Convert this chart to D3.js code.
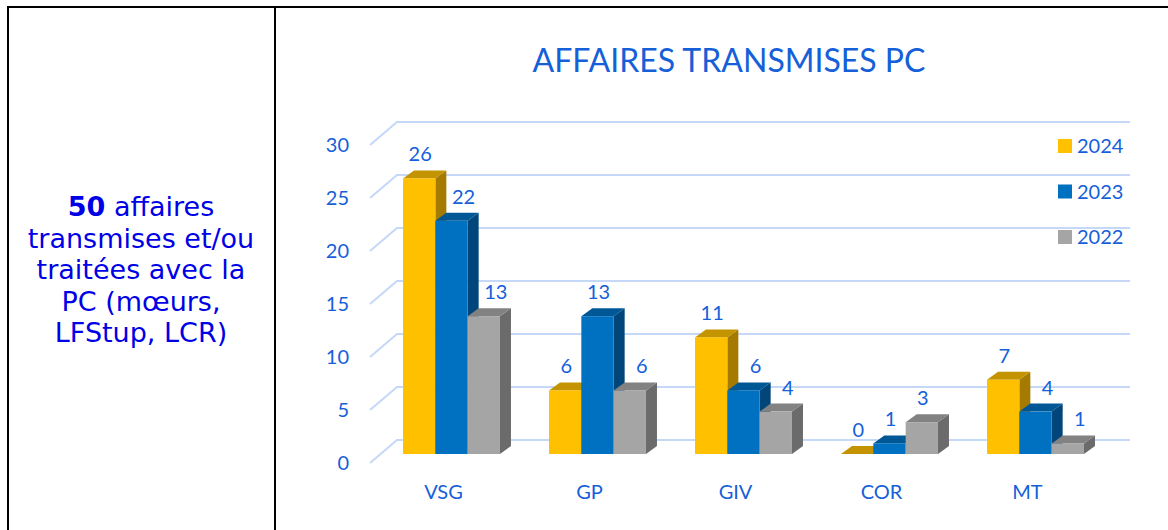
<!DOCTYPE html>
<meta charset="utf-8">
<style>
body { margin: 0; background: #fff; }
.lab { font-family: Lato, "Open Sans", sans-serif; font-size: 20px; fill: #1560D9; }
.side { font-family: "DejaVu Sans", Verdana, sans-serif; font-size: 27px; fill: #0000E6; }
</style>
<body>
<script src="https://cdn.jsdelivr.net/npm/d3@7"></script>
<script>

var width = 1168,
    height = 530;

var categories = ["VSG", "GP", "GIV", "COR", "MT"];
var years = ["2024", "2023", "2022"];
var v2024 = [26, 6, 11, 0, 7];
var v2023 = [22, 13, 6, 1, 4];
var v2022 = [13, 6, 4, 3, 1];
var yTicks = [0, 5, 10, 15, 20, 25, 30];
var sideLines = ["transmises et/ou", "traitées avec la", "PC (mœurs,", "LFStup, LCR)"];

var series = [v2024, v2023, v2022];
var faceColors = ["#FFC000", "#0070C0", "#A5A5A5"];
var topColors = ["#C39300", "#005796", "#828282"];
var sideColors = ["#A47B00", "#00467A", "#6B6B6B"];

// 3d offsets
var dx = 11, dy = 8;          // bar depth
var wallX = 27, wallY = 23;   // floor depth (front edge -> back wall)

var svg = d3.select("body").append("svg")
    .attr("width", width)
    .attr("height", height);

// table borders
svg.append("path")
    .attr("d", "M8,530 V7 H1168 M275,7 V530")
    .attr("fill", "none")
    .attr("stroke", "black")
    .attr("stroke-width", 2);

// left cell text
var st = svg.append("text")
    .attr("class", "side")
    .attr("text-anchor", "middle")
    .attr("x", 141)
    .attr("y", 216);
st.append("tspan").attr("font-weight", "bold").text("50");
st.append("tspan").text(" affaires");

svg.selectAll(".sideLine")
    .data(sideLines)
  .enter().append("text")
    .attr("class", "side")
    .attr("text-anchor", "middle")
    .attr("x", 141)
    .attr("y", function(d, i) { return 247.5 + i * 31.5; })
    .text(function(d) { return d; });

// title
svg.append("text")
    .attr("class", "lab")
    .attr("x", 729)
    .attr("y", 72)
    .attr("text-anchor", "middle")
    .style("font-size", "32px")
    .text("AFFAIRES TRANSMISES PC");

var y = d3.scaleLinear()
    .domain([0, 30])
    .range([454, 136]);

var x = d3.scaleBand()
    .domain(categories)
    .range([378.5, 1108.5])
    .paddingInner(0.336)
    .paddingOuter(0.168);

var xs = d3.scaleBand()
    .domain(years)
    .range([0, x.bandwidth()]);

// gridlines: diagonal on the left + back wall
var grid = svg.append("g")
    .attr("fill", "none")
    .attr("stroke", "#C5D8F7")
    .attr("stroke-width", 2);

grid.selectAll("path")
    .data(yTicks)
  .enter().append("path")
    .attr("d", function(d) {
      var yb = y(d) - 14;
      return "M370," + (yb + wallY) + " L" + (370 + wallX) + "," + yb + " H1130";
    });

svg.selectAll(".tick")
    .data(yTicks)
  .enter().append("text")
    .attr("class", "lab")
    .attr("text-anchor", "end")
    .attr("x", 349)
    .attr("y", function(d) { return y(d) + 16; })
    .text(function(d) { return d; });

// bars
var bars = [];
series.forEach(function(vals, s) {
  vals.forEach(function(v, c) {
    bars.push({ s: s, c: c, v: v,
      prev: s > 0 ? series[s - 1][c] : null });
  });
});

var g = svg.append("g");

series.forEach(function(vals, s) {
  var sel = g.selectAll(".bar" + s)
      .data(bars.filter(function(d) { return d.s === s; }))
    .enter().append("g");

  sel.each(function(d) {
    var el = d3.select(this);
    var x0 = x(categories[d.c]) + xs(years[d.s]),
        w = xs.bandwidth(),
        top = y(d.v),
        bot = y(0);
    el.append("path")
        .attr("fill", sideColors[s])
        .attr("d", "M" + (x0 + w) + "," + top + " l" + dx + "," + (-dy) +
          " V" + (bot - dy) + " L" + (x0 + w) + "," + bot + "Z");
    el.append("path")
        .attr("fill", topColors[s])
        .attr("d", "M" + x0 + "," + top + " l" + dx + "," + (-dy) +
          " h" + w + " l" + (-dx) + "," + dy + "Z");
    if (d.v > 0) {
      el.append("rect")
          .attr("x", x0)
          .attr("y", top)
          .attr("width", w)
          .attr("height", bot - top)
          .attr("fill", faceColors[s]);
    }
  });
});

// value labels
svg.selectAll(".val")
    .data(bars)
  .enter().append("text")
    .attr("class", "lab")
    .attr("text-anchor", "middle")
    .attr("x", function(d) {
      var cx = x(categories[d.c]) + xs(years[d.s]) + xs.bandwidth() / 2 + 1;
      return (d.prev !== null && d.prev > d.v) ? cx + 11 : cx;
    })
    .attr("y", function(d) { return y(d.v) - 17; })
    .text(function(d) { return d.v; });

// category labels
svg.selectAll(".cat")
    .data(categories)
  .enter().append("text")
    .attr("class", "lab")
    .attr("text-anchor", "middle")
    .attr("x", function(d) { return x(d) + x.bandwidth() / 2 - 8; })
    .attr("y", 499)
    .text(function(d) { return d; });

// legend
var leg = svg.selectAll(".leg")
    .data(years)
  .enter().append("g")
    .attr("transform", function(d, i) { return "translate(1058," + (139 + i * 45.5) + ")"; });

leg.append("rect")
    .attr("width", 14)
    .attr("height", 14)
    .attr("fill", function(d, i) { return faceColors[i]; });

leg.append("text")
    .attr("class", "lab")
    .attr("x", 19)
    .attr("y", 14)
    .text(function(d) { return d; });

</script>
